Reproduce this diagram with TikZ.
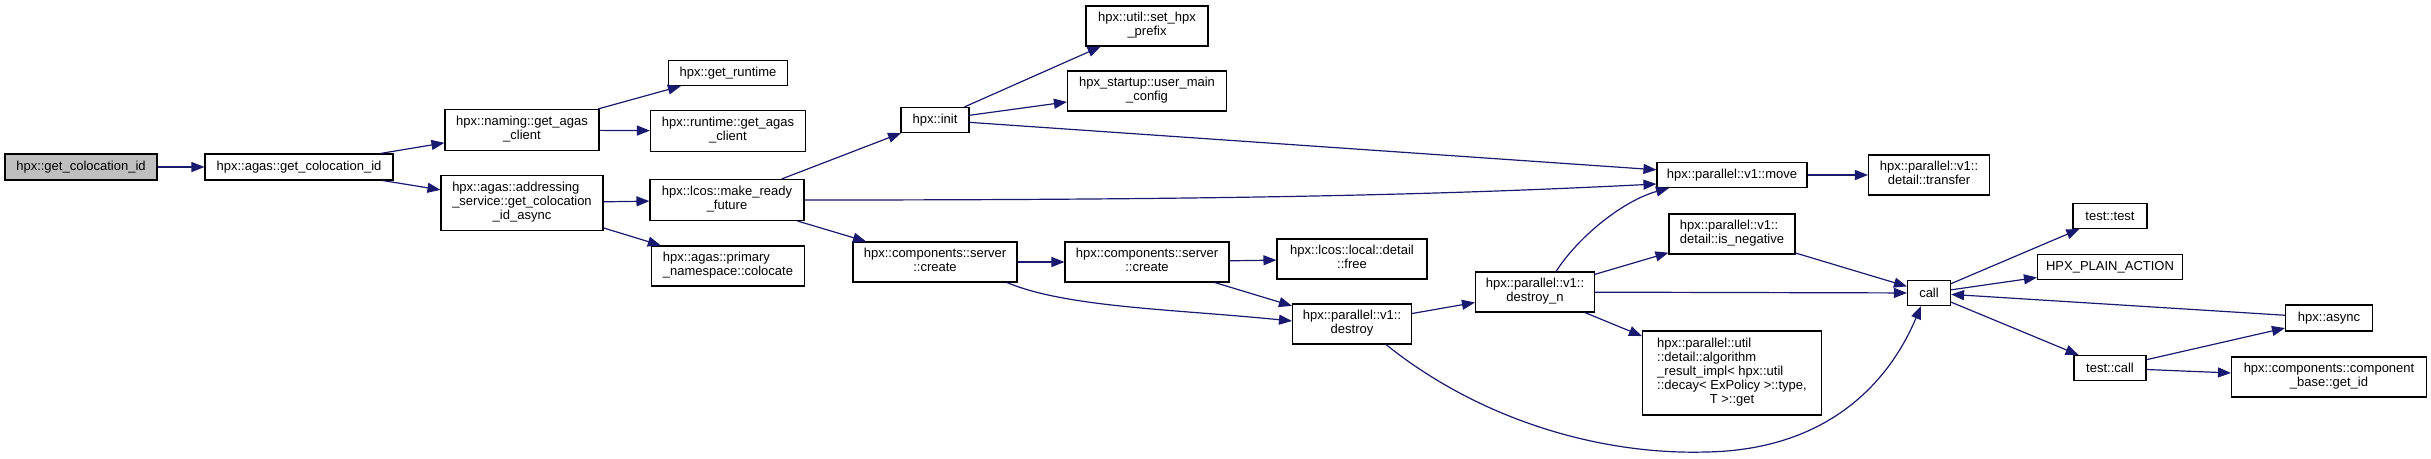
\documentclass[tikz,border=0pt]{standalone}
\usepackage{fontspec}
\setmainfont{Liberation Sans}
\usetikzlibrary{arrows.meta}
\definecolor{edgeblue}{HTML}{191970}
\definecolor{rootgray}{HTML}{BFBFBF}
\newcommand{\lbl}[2]{\begin{tabular}{@{}l@{}}#1\\\multicolumn{1}{@{}c@{}}{#2}\end{tabular}}
\begin{document}
\begin{tikzpicture}[x=1pt,y=-1pt,
  box/.style={draw=black, line width=1.1pt, fill=white, inner sep=0pt, align=center,
    font=\fontsize{13}{14}\selectfont},
  link/.style={draw=edgeblue, line width=1.2pt, -{Triangle[length=13pt,width=10pt]}}]
\useasboundingbox (0,0) rectangle (2431,458);

\node[box, fill=rootgray, minimum width=152pt, minimum height=26pt] (root) at (81,167) {hpx::get\_colocation\_id};
\node[box, minimum width=188pt, minimum height=26pt] (agas) at (299,167) {hpx::agas::get\_colocation\_id};
\node[box, minimum width=154pt, minimum height=41pt] (naming) at (522,130) {\lbl{hpx::naming::get\_agas}{\_client}};
\node[box, minimum width=162pt, minimum height=55pt] (addr) at (522,203) {\lbl{hpx::agas::addressing\\\_service::get\_colocation}{\_id\_async}};
\node[box, minimum width=119pt, minimum height=25pt] (getrt) at (728,73) {hpx::get\_runtime};
\node[box, minimum width=155pt, minimum height=41pt] (rtagas) at (728,131) {\lbl{hpx::runtime::get\_agas}{\_client}};
\node[box, minimum width=154pt, minimum height=41pt] (mrf) at (727,200) {\lbl{hpx::lcos::make\_ready}{\_future}};
\node[box, minimum width=153pt, minimum height=40pt] (coloc) at (728,266) {\lbl{hpx::agas::primary}{\_namespace::colocate}};
\node[box, minimum width=68pt, minimum height=25pt] (init) at (935,120) {hpx::init};
\node[box, minimum width=122pt, minimum height=40pt] (prefix) at (1147,26) {\lbl{hpx::util::set\_hpx}{\_prefix}};
\node[box, minimum width=159pt, minimum height=40pt] (umc) at (1147,91) {\lbl{hpx\_startup::user\_main}{\_config}};
\node[box, minimum width=164pt, minimum height=40pt] (create1) at (935,262) {\lbl{hpx::components::server}{::create}};
\node[box, minimum width=164pt, minimum height=40pt] (create2) at (1147,262) {\lbl{hpx::components::server}{::create}};
\node[box, minimum width=150pt, minimum height=40pt] (free) at (1352,259) {\lbl{hpx::lcos::local::detail}{::free}};
\node[box, minimum width=119pt, minimum height=40pt] (destroy) at (1352,324) {\lbl{hpx::parallel::v1::}{destroy}};
\node[box, minimum width=119pt, minimum height=40pt] (destroyn) at (1535,292) {\lbl{hpx::parallel::v1::}{destroy\_n}};
\node[box, minimum width=150pt, minimum height=25pt] (move) at (1732,175) {hpx::parallel::v1::move};
\node[box, minimum width=121pt, minimum height=40pt] (transfer) at (1929,175) {\lbl{hpx::parallel::v1::}{detail::transfer}};
\node[box, minimum width=126pt, minimum height=40pt] (isneg) at (1732,234) {\lbl{hpx::parallel::v1::}{detail::is\_negative}};
\node[box, minimum width=179pt, minimum height=84pt] (algo) at (1732,373) {\lbl{hpx::parallel::util\\::detail::algorithm\\\_result\_impl< hpx::util\\::decay< ExPolicy >::type,}{T >::get}};
\node[box, minimum width=43pt, minimum height=25pt] (call) at (1929,293) {call};
\node[box, minimum width=74pt, minimum height=25pt] (ttest) at (2110,216) {test::test};
\node[box, minimum width=145pt, minimum height=25pt] (plain) at (2110,267) {HPX\_PLAIN\_ACTION};
\node[box, minimum width=87pt, minimum height=26pt] (async) at (2329,318) {hpx::async};
\node[box, minimum width=72pt, minimum height=25pt] (tcall) at (2110,368) {test::call};
\node[box, minimum width=195pt, minimum height=40pt] (getid) at (2329,377) {\lbl{hpx::components::component}{\_base::get\_id}};

\draw[link] (root) -- (agas);
\draw[link] (agas) -- (naming);
\draw[link] (agas) -- (addr);
\draw[link] (naming) -- (getrt);
\draw[link] (naming) -- (rtagas);
\draw[link] (addr) -- (mrf);
\draw[link] (addr) -- (coloc);
\draw[link] (mrf) -- (init);
\draw[link] (mrf.east) .. controls +(450,0) and +(-200,10) .. ([yshift=-9pt]move.west);
\draw[link] (mrf) -- (create1);
\draw[link] (init) -- (prefix);
\draw[link] (init) -- (umc);
\draw[link] (init) -- (move);
\draw[link] (create1) -- (create2);
\draw[link] ([xshift=72pt]create1.south) .. controls +(60,25) and +(-120,-12) .. ([yshift=3pt]destroy.west);
\draw[link] (create2) -- (free);
\draw[link] (create2) -- (destroy);
\draw[link] (destroy) -- (destroyn);
\draw[link] ([xshift=34pt]destroy.south) .. controls (1480,420) and (1600,455) .. (1706,452)
   .. controls (1830,450) and (1890,380) .. ([xshift=-8pt]call.south);
\draw[link] ([xshift=21pt]destroyn.north) .. controls +(24,-37) and +(-44,12) .. ([xshift=-63pt]move.south);
\draw[link] (destroyn) -- (isneg);
\draw[link] (destroyn) -- (call);
\draw[link] (destroyn) -- (algo);
\draw[link] (move) -- (transfer);
\draw[link] (isneg) -- (call);
\draw[link] (call) -- (ttest);
\draw[link] (call) -- (plain);
\draw[link] (call) -- (tcall);
\draw[link] (async) -- (call);
\draw[link] (tcall) -- (async);
\draw[link] (tcall) -- (getid);
\end{tikzpicture}
\end{document}
